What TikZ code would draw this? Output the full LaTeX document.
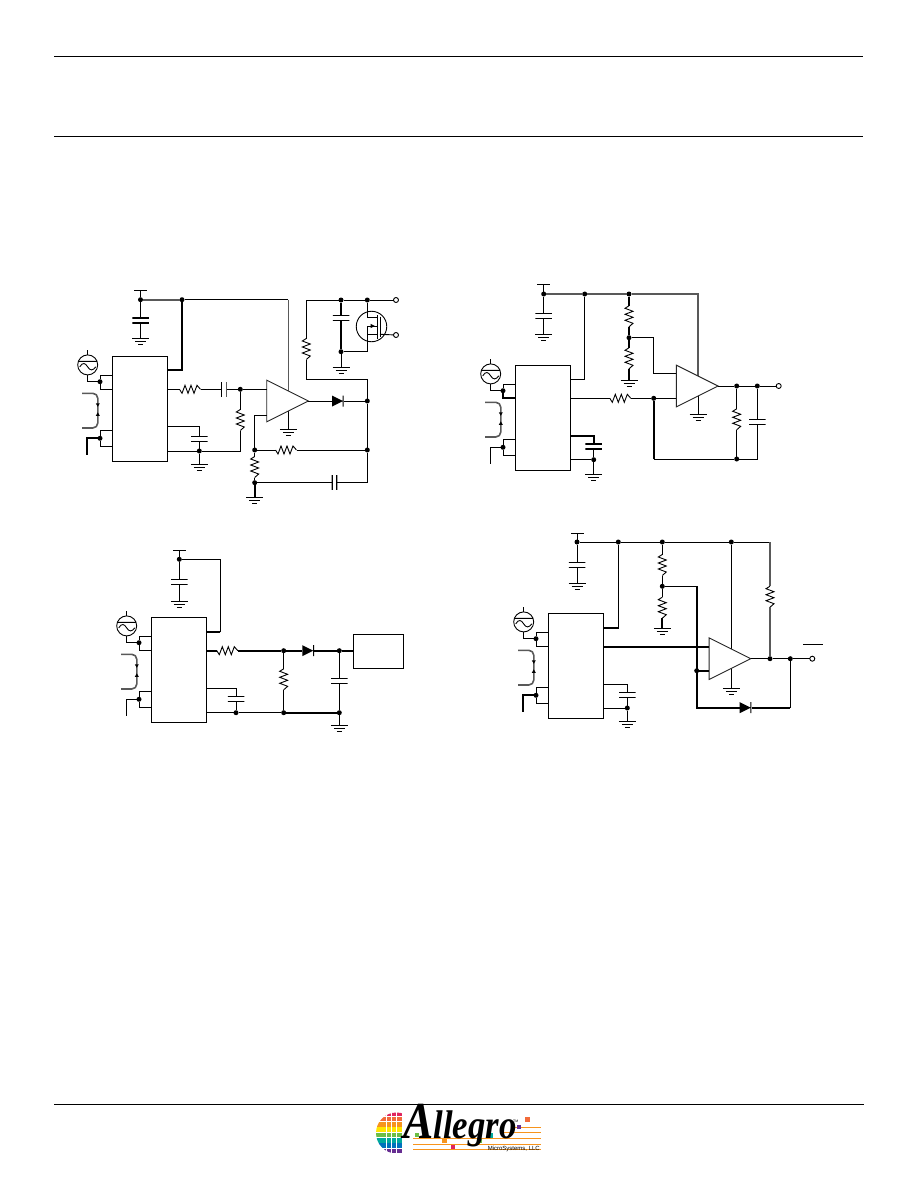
\documentclass[tikz,border=0pt]{standalone}
\usepackage{fontspec}
\setmainfont{Liberation Serif}
\setsansfont{Liberation Sans}
\usetikzlibrary{arrows,shapes.geometric}

\definecolor{logored}{HTML}{E0245E}
\definecolor{logoflame}{HTML}{F26B3A}
\definecolor{logoorange}{HTML}{F7941D}
\definecolor{logoyellow}{HTML}{FFE600}
\definecolor{logogreen}{HTML}{6CBE45}
\definecolor{logoteal}{HTML}{00A99D}
\definecolor{logoblue}{HTML}{0072BC}
\definecolor{logopurple}{HTML}{662D91}

\tikzset{
	wire/.style={line width=.9pt},
	bus/.style={line width=2pt},
	greybus/.style={line width=1.6pt,draw=black!65},
	dot/.style={circle,fill=black,inner sep=0pt,minimum size=5pt,outer sep=0pt},
	term/.style={circle,draw,wire,inner sep=0pt,minimum size=5pt,outer sep=0pt},
	chip/.style={draw,wire,inner sep=0pt,outer sep=0pt,minimum width=55.4pt,minimum height=105pt},
	supply/.style={fill=black,inner sep=0pt,outer sep=0pt,minimum width=13pt,minimum height=.9pt},
	amp/.style={isosceles triangle,isosceles triangle apex angle=53.13,draw=black!85,wire,fill=white,inner sep=0pt,outer sep=0pt,minimum height=41.6pt},
	gnd/.style={inner sep=0pt,outer sep=0pt,anchor=north,minimum width=18pt,minimum height=7pt,
		path picture={\draw[wire,shift={(path picture bounding box.center)}]
			(-8.5pt,3pt) -- (8.5pt,3pt) (-5.5pt,0pt) -- (5.5pt,0pt) (-2.5pt,-3pt) -- (2.5pt,-3pt);}},
	resh/.style={inner sep=0pt,outer sep=0pt,minimum width=21pt,minimum height=10pt,
		path picture={\draw[wire,shift={(path picture bounding box.center)}]
			(-10.5pt,0pt) -- (-8pt,-4pt) -- (-5pt,4pt) -- (-2pt,-4pt) -- (1pt,4pt) -- (4pt,-4pt) -- (7pt,4pt) -- (10.5pt,0pt);}},
	resv/.style={inner sep=0pt,outer sep=0pt,minimum width=10pt,minimum height=21pt,
		path picture={\draw[wire,shift={(path picture bounding box.center)}]
			(0pt,10.5pt) -- (-4pt,8pt) -- (4pt,5pt) -- (-4pt,2pt) -- (4pt,-1pt) -- (-4pt,-4pt) -- (4pt,-7pt) -- (0pt,-10.5pt);}},
	capv/.style={inner sep=0pt,outer sep=0pt,minimum width=16.5pt,minimum height=5.8pt,
		path picture={\draw[line width=#1,shift={(path picture bounding box.center)}] (-9pt,2.5pt) -- (9pt,2.5pt) (-9pt,-2.5pt) -- (9pt,-2.5pt);}},
	capv/.default=.9pt,
	caph/.style={inner sep=0pt,outer sep=0pt,minimum width=5.8pt,minimum height=14pt,
		path picture={\draw[line width=#1,shift={(path picture bounding box.center)}] (-2.5pt,8pt) -- (-2.5pt,-8pt) (2.5pt,8pt) -- (2.5pt,-8pt);}},
	caph/.default=.9pt,
	diode/.style={inner sep=0pt,outer sep=0pt,minimum width=12pt,minimum height=11pt,
		path picture={\fill[shift={(path picture bounding box.center)}] (-6pt,5.5pt) -- (5pt,0pt) -- (-6pt,-5.5pt) -- cycle
			(4.7pt,5.5pt) rectangle (5.7pt,-5.5pt);}},
	source/.style={circle,draw,wire,inner sep=0pt,outer sep=0pt,minimum size=20pt,
		path picture={\draw[wire,shift={(path picture bounding box.center)}] (-10pt,3.5pt) -- (10pt,3.5pt)
			(-8pt,-2pt) .. controls (-5pt,3pt) and (-2.5pt,2pt) .. (0pt,-2pt) .. controls (2.5pt,-6pt) and (5pt,-6pt) .. (8pt,-2pt);}},
	hallinput/.pic={
		\node[chip,anchor=north west] (chip) at (0,0) {};
		\node[source] (src) at (-24.6,8.6) {};
		\node[dot] (pos) at (-12.3,25.4) {};
		\node[dot] (neg) at (-12.3,82) {};
		\coordinate (srctop) at (-24.6,-6.3);
		\coordinate (posa) at (0,18.7);
		\coordinate (posb) at (0,33);
		\coordinate (nega) at (0,74);
		\coordinate (negb) at (0,90);
		\coordinate (lead) at (-25,98.7);
		\draw[wire] (srctop) -- (src.north);
		\draw[wire] (src.south) |- (pos);
		\draw[wire] (posa) -| (pos);
		\draw[wire] (posb) -| (pos);
		\draw[wire] (nega) -| (neg);
		\draw[wire] (negb) -| (neg);
		\draw[wire] (neg) -| (lead);
		\draw[greybus,rounded corners=5pt] (-30.2,37) -- (-14.5,37) -- (-14.5,71.7) -- (-30.2,71.7);
		\fill (-16.5,47) -- (-12.5,47) -- (-14.5,50.5) -- cycle;
		\fill (-16.5,59.5) -- (-12.5,59.5) -- (-14.5,56) -- cycle;
	}
}

\begin{document}
\begin{tikzpicture}[x=1pt,y=-1pt]
	\useasboundingbox (0,0) rectangle (918,1188);

	% page rules
	\coordinate (topa) at (54,56.5);
	\coordinate (topb) at (863,56.5);
	\coordinate (heada) at (54,136.3);
	\coordinate (headb) at (863,136.3);
	\coordinate (foota) at (54,1104);
	\coordinate (footb) at (864,1104);
	\draw[line width=1.8pt] (topa) -- (topb);
	\draw[wire] (heada) -- (headb);
	\draw[wire] (foota) -- (footb);

	% top left
	\pic (a) at (112.3,356.3) {hallinput};
	\draw[bus] (aneg) -| (alead);
	\node[supply] (avcc) at (140.5,290) {};
	\node[dot] (asup) at (140.5,299.7) {};
	\node[dot] (asupb) at (182,299.7) {};
	\node[capv=2.4pt] (ac1) at (140.5,320.2) {};
	\node[gnd] (ag1) at (140.5,338) {};
	\node[resh] (ar1) at (190,389.3) {};
	\node[caph] (ac2) at (223.8,389.3) {};
	\node[dot] (ainp) at (240.3,389.3) {};
	\node[resv] (ar2) at (240.3,420) {};
	\node[capv] (ac3) at (199.3,438.5) {};
	\node[dot] (aret) at (199.3,451) {};
	\node[gnd] (ag2) at (199.3,464.3) {};
	\node[dot] (afb) at (254.7,450) {};
	\node[resv] (ar3) at (254.7,467) {};
	\node[dot] (abot) at (254.7,482.7) {};
	\node[gnd] (ag3) at (254.7,496.7) {};
	\node[resh] (ar4) at (286,450) {};
	\node[caph=2.4pt] (ac4) at (334.5,482.7) {};
	\node[dot] (ar) at (367.3,401) {};
	\node[dot] (arb) at (367.3,450) {};
	\node[diode] (ad1) at (338,401) {};
	\node[gnd] (ag4) at (288.3,429) {};
	\coordinate (aampc) at (288.3,401);
	\coordinate (atip) at (308.3,401);
	\coordinate (abr) at (288.3,299.7);
	\coordinate (a1) at (167.7,370.3);
	\coordinate (a2) at (167.7,389.3);
	\coordinate (a3) at (167.7,426);
	\coordinate (a4) at (167.7,451);
	\coordinate (ain) at (254.7,415.3);
	\coordinate (acor) at (367.3,482.7);
	\draw[greybus] (asup) -- (asupb);
	\draw[line width=1.2pt] (asupb) -- (abr);
	\draw[greybus] (abr) -- (aampc);
	\draw[wire] (aampc) -- (ag4);
	\node[amp,anchor=apex] (aamp) at (atip) {};
	\draw[wire] (avcc) -- (asup);
	\draw[wire] (asup) -- (ac1) -- (ag1);
	\draw[bus] (asupb) |- (a1);
	\draw[wire] (a2) -- (ar1) -- (ac2) -- (ainp) -- (aamp.west |- ainp);
	\draw[wire] (ainp) -- (ar2) |- (aret);
	\draw[wire] (a3) -| (ac3);
	\draw[wire] (ac3) -- (aret) -- (ag2);
	\draw[wire] (a4) -- (aret);
	\draw[wire] (aamp.west |- ain) -| (afb);
	\draw[wire] (afb) -- (ar3) -- (abot);
	\draw[bus] (abot) -- (ag3);
	\draw[wire] (afb) -- (ar4) -- (arb);
	\draw[wire] (abot) -- (ac4) -- (acor) -- (arb) -- (ar);
	\draw[wire] (aamp.apex) -- (ad1) -- (ar);

	% gate drive
	\node[dot] (am1) at (341,300) {};
	\node[dot] (am2) at (367.3,300) {};
	\node[term] (at1) at (396,300) {};
	\node[term] (at2) at (396,335) {};
	\node[capv] (ac5) at (341,317.5) {};
	\node[dot] (am3) at (341,351.7) {};
	\node[gnd] (ag5) at (341,366.7) {};
	\node[resv] (ar5) at (306.3,349) {};
	\node[circle,draw,wire,inner sep=0pt,minimum size=30.5pt] (aq) at (371.5,326.5) {};
	\coordinate (aqa) at (367.3,317.3);
	\coordinate (aqb) at (377.3,317.3);
	\coordinate (aqc) at (367.3,326);
	\coordinate (aqd) at (377.3,326);
	\coordinate (aqe) at (367.3,334.3);
	\coordinate (aqf) at (377.3,334.3);
	\coordinate (aqg) at (380,316.7);
	\coordinate (aqh) at (380,336.7);
	\coordinate (aqi) at (377.3,315);
	\coordinate (aqj) at (377.3,339);
	\coordinate (afeed) at (306.3,379);
	\coordinate (afeedb) at (367.3,379);
	\coordinate (agate) at (380,334.3);
	\draw[wire] (ar) -- (afeedb) -- (afeed) -- (ar5) |- (am1);
	\draw[wire] (am1) -- (am2) -- (at1);
	\draw[bus] (am1) -- (ac5) -- (am3);
	\draw[wire] (am3) -- (ag5);
	\draw[wire] (am2) -- (aqa) -- (aqb);
	\draw[wire] (aqc) -- (aqd);
	\draw[wire] (aqc) -- (aqe) -- (aqf);
	\draw[wire] (aqi) -- (aqj);
	\draw[wire] (aqg) -- (aqh);
	\draw[wire] (agate) -- (at2);
	\draw[wire] (aqe) |- (am3);
	\fill (375,326) -- (370.5,323.8) -- (370.5,328.2) -- cycle;

	% top right
	\pic (b) at (515.3,365.3) {hallinput};
	\draw[bus] (bposb) -| (bpos);
	\node[supply] (bvcc) at (543.7,284.3) {};
	\node[dot] (bsup) at (543.7,294) {};
	\node[dot] (bsupb) at (584.7,294) {};
	\node[dot] (bsupc) at (629,294) {};
	\node[capv] (bc1) at (543.7,316.2) {};
	\node[gnd] (bg1) at (543.7,334.3) {};
	\node[resv] (br1) at (629,316.3) {};
	\node[dot] (bdiv) at (629,337.7) {};
	\node[resv] (br2) at (629,358.3) {};
	\node[gnd] (bg2) at (629,379.7) {};
	\node[resh] (br3) at (620.3,398.3) {};
	\node[dot] (binp) at (653.7,398.3) {};
	\node[gnd] (bg3) at (698,414.3) {};
	\node[dot] (bo1) at (736.7,386) {};
	\node[dot] (bo2) at (757.3,386) {};
	\node[term] (bt1) at (778.7,386) {};
	\node[resv] (br4) at (736.7,419.3) {};
	\node[capv] (bc2) at (757.3,421.8) {};
	\node[dot] (bbot) at (736.7,459) {};
	\node[capv=2.4pt] (bc3) at (593.7,446.5) {};
	\node[dot] (bret) at (593.7,459.7) {};
	\node[gnd] (bg4) at (593.7,473.7) {};
	\coordinate (bampc) at (698,386);
	\coordinate (bbr) at (698,294);
	\coordinate (btip) at (718,386);
	\coordinate (b1) at (570.7,379.3);
	\coordinate (b2) at (570.7,398.3);
	\coordinate (b3) at (570.7,435.7);
	\coordinate (b4) at (570.7,459.7);
	\coordinate (bin) at (653.3,373.3);
	\coordinate (bcor) at (653.7,459);
	\coordinate (bcorb) at (757.3,459);
	\draw[wire] (bampc) -- (bg3);
	\draw[greybus] (bsup) -- (bsupb) -- (bsupc) -- (bbr) -- (bampc);
	\node[amp,anchor=apex] (bamp) at (btip) {};
	\draw[wire] (bvcc) -- (bsup);
	\draw[wire] (bsup) -- (bc1) -- (bg1);
	\draw[wire] (bsupb) |- (b1);
	\draw[bus] (bsupc) -- (br1);
	\draw[bus] (bdiv) -- (br1);
	\draw[bus] (bdiv) -- (br2);
	\draw[bus] (br2) -- (bg2);
	\draw[wire] (bdiv) -| (bin) -- (bamp.west |- bin);
	\draw[wire] (b2) -- (br3) -- (binp) -- (bamp.west |- binp);
	\draw[bus] (binp) -- (bcor);
	\draw[wire] (bcor) -- (bbot) -- (bcorb) -- (bc2) -- (bo2);
	\draw[wire] (bo1) -- (br4) -- (bbot);
	\draw[wire] (bamp.apex) -- (bo1) -- (bo2) -- (bt1);
	\draw[bus] (b3) -| (bc3);
	\draw[wire] (bc3) -- (bret) -- (bg4);
	\draw[wire] (b4) -- (bret);

	% bottom left
	\pic (c) at (151.3,617.3) {hallinput};
	\node[supply] (cvcc) at (179.3,550) {};
	\node[dot] (csup) at (179.3,559.3) {};
	\node[capv] (cc1) at (179.3,581.8) {};
	\node[gnd] (cg1) at (179.3,600.7) {};
	\node[resh] (cr1) at (227.3,650.7) {};
	\node[dot] (cj1) at (283.7,650.7) {};
	\node[diode] (cd1) at (308.3,650.7) {};
	\node[dot] (cj2) at (339.3,650.7) {};
	\node[draw,wire,inner sep=0pt,minimum width=50.4pt,minimum height=34pt] (cload) at (378.5,651.3) {};
	\node[resv] (cr2) at (283.7,679.3) {};
	\node[capv] (cc2) at (339.3,681) {};
	\node[capv] (cc3) at (236,699.3) {};
	\node[dot] (cret) at (236,712.7) {};
	\node[dot] (cj3) at (283.7,712.7) {};
	\node[dot] (cj4) at (339.3,712.7) {};
	\node[gnd] (cg2) at (339.3,725.3) {};
	\coordinate (c1) at (206.7,632);
	\coordinate (c2) at (206.7,650.7);
	\coordinate (c3) at (206.7,688.3);
	\coordinate (c4) at (206.7,712.7);
	\coordinate (ccor) at (220.3,559.3);
	\coordinate (ccorb) at (220.3,632);
	\draw[wire] (cvcc) -- (csup);
	\draw[wire] (csup) -- (cc1) -- (cg1);
	\draw[wire] (csup) -- (ccor) -- (ccorb);
	\draw[bus] (ccorb) -- (c1);
	\draw[bus] (c2) -- (cr1) -- (cj1) -- (cd1) -- (cj2) -- (cload.west |- cj2);
	\draw[wire] (cj1) -- (cr2) -- (cj3);
	\draw[wire] (cj2) -- (cc2) -- (cj4) -- (cg2);
	\draw[wire] (c3) -| (cc3);
	\draw[wire] (cc3) -- (cret);
	\draw[wire] (c4) -- (cret) -- (cj3);
	\draw[bus] (cj3) -- (cj4);

	% bottom right
	\pic (d) at (548.3,613.3) {hallinput};
	\draw[bus] (dneg) -| (dlead);
	\node[supply] (dvcc) at (577,533.7) {};
	\node[dot] (dsup) at (577,542) {};
	\node[dot] (dsupb) at (618.3,542) {};
	\node[dot] (dsupc) at (662.3,542) {};
	\node[dot] (dsupd) at (731.3,542) {};
	\node[capv] (dc1) at (577,565.2) {};
	\node[gnd] (dg1) at (577,582.7) {};
	\node[resv] (dr1) at (662.3,565) {};
	\node[dot] (ddiv) at (662.3,586.3) {};
	\node[resv] (dr2) at (662.3,607.7) {};
	\node[gnd] (dg2) at (662.3,627.7) {};
	\node[resv] (dr3) at (770,596.7) {};
	\node[dot] (do1) at (770,658.7) {};
	\node[dot] (do2) at (790.3,658.7) {};
	\node[term] (dt1) at (812.3,658.7) {};
	\node[dot] (dinp) at (696.7,670.7) {};
	\node[gnd] (dg3) at (731.3,687.7) {};
	\node[diode] (dd1) at (745.7,707.7) {};
	\node[capv] (dc2) at (627.3,695.2) {};
	\node[dot] (dret) at (627.3,708) {};
	\node[gnd] (dg4) at (627.3,721) {};
	\coordinate (dampc) at (731.3,658.7);
	\coordinate (dtip) at (750.7,658.7);
	\coordinate (dbr) at (770,542);
	\coordinate (d1) at (603.7,628);
	\coordinate (d2) at (603.7,647);
	\coordinate (d3) at (603.7,684.3);
	\coordinate (d4) at (603.7,708);
	\coordinate (dcor) at (697,586.3);
	\coordinate (dcorb) at (697,707.7);
	\coordinate (dcorc) at (790.3,707.7);
	\coordinate (dbara) at (803,644);
	\coordinate (dbarb) at (823.3,644);
	\draw[wire] (dsupd) -- (dampc) -- (dg3);
	\node[amp,anchor=apex] (damp) at (dtip) {};
	\draw[wire] (dvcc) -- (dsup);
	\draw[wire] (dsup) -- (dc1) -- (dg1);
	\draw[wire] (dsup) -- (dsupb) -- (dsupc) -- (dsupd) -- (dbr);
	\draw[wire] (dsupb) |- (d1);
	\draw[bus] (dsupb |- d1) -- (d1);
	\draw[wire] (dsupc) -- (dr1) -- (ddiv) -- (dr2);
	\draw[bus] (dr2) -- (dg2);
	\draw[line width=1.2pt] (ddiv) -- (dcor);
	\draw[bus] (dcor) -- (dcorb) -- (dd1) -- (dcorc);
	\draw[wire] (dcorc) -- (do2);
	\draw[bus] (dinp) -- (damp.west |- dinp);
	\draw[bus] (d2) -- (damp.west |- d2);
	\draw[greybus] (dbr) -- (dr3) -- (do1);
	\draw[wire] (damp.apex) -- (do1) -- (do2) -- (dt1);
	\draw[wire] (dbara) -- (dbarb);
	\draw[wire] (d3) -| (dc2);
	\draw[wire] (dc2) -- (dret) -- (dg4);
	\draw[wire] (d4) -- (dret);

	% logo
	\begin{scope}
		\clip (396.5,1133) circle (20.5);
		\foreach \rowy/\rowcol in {1111.5/logored,1116.8/logoflame,1122.1/logoorange,1127.4/logoyellow,1132.7/logogreen,1138/logoteal,1143.3/logoblue,1148.6/logopurple}
			\foreach \colx in {376,381.3,...,402}
				\fill[\rowcol] (\colx,\rowy) rectangle ++(4.5,4.5);
	\end{scope}
	\foreach \liney/\linex in {1127.3/513,1132.7/503,1138.3/413,1144/413,1149.3/413}
		\draw[logoorange,line width=.5pt] (\linex,\liney) -- (541,\liney);
	\fill[logoflame] (524.5,1117) rectangle ++(5,5);
	\fill[logopurple] (516.5,1125) rectangle ++(4,4);
	\fill[logoorange] (442,1138.5) rectangle ++(4.5,4.5);
	\fill[logoteal] (489,1133) rectangle ++(4,4.5);
	\fill[logogreen] (477,1139) rectangle ++(4.5,4);
	\fill[logored] (451,1144.5) rectangle ++(4,4.5);
	\fill[logoyellow] (424,1133.5) rectangle ++(4,4.5);
	\fill[logogreen] (415,1133) rectangle ++(4,4);
	\node[anchor=base west,inner sep=0pt,font=\bfseries\itshape\fontsize{40}{40}\selectfont] (logotext) at (403,1138) {\scalebox{.87}[1]{{\fontsize{52}{52}\selectfont A}llegro}};
	\node[anchor=base west,inner sep=0pt,font=\sffamily\fontsize{3.5}{4}\selectfont] (logotm) at (513,1122) {TM};
	\node[anchor=base east,inner sep=0pt,font=\sffamily\fontsize{6}{6}\selectfont] (logosub) at (540,1150) {MicroSystems, LLC};
\end{tikzpicture}
\end{document}
